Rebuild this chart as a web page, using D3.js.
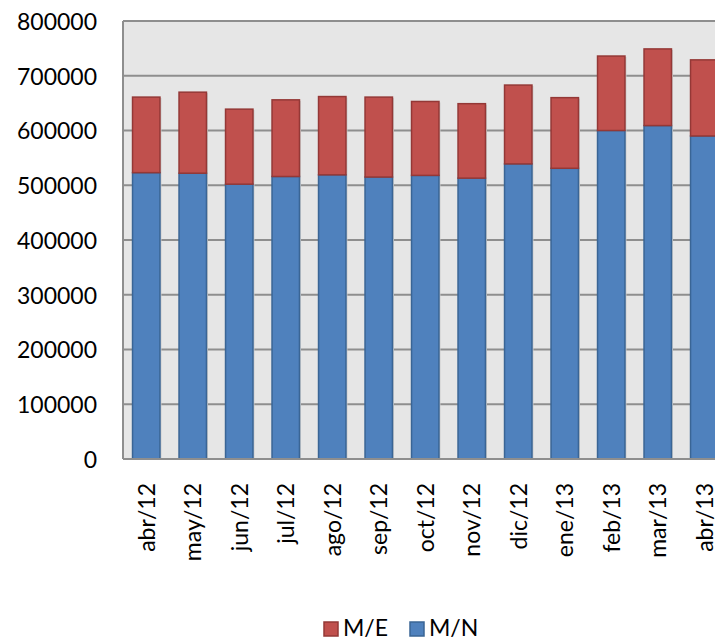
<!DOCTYPE html>
<html>
<head>
<meta charset="utf-8">
<script src="https://cdn.jsdelivr.net/npm/d3@7"></script>
<style>
  body { margin: 0; background: #fff; overflow: hidden; }
  text { font-family: Lato, "Open Sans", sans-serif; fill: #000; }
</style>
</head>
<body>
<div id="chart"></div>
<script>
// months on the x axis
var months = ["abr/12", "may/12", "jun/12", "jul/12", "ago/12", "sep/12", "oct/12",
    "nov/12", "dic/12", "ene/13", "feb/13", "mar/13", "abr/13"];
// M/N (bottom, blue)
var mn = [523000, 522000, 502000, 516000, 519000, 515000, 518000,
    513000, 539000, 531000, 600000, 609000, 590000];
// M/E (top, red)
var me = [138000, 148000, 137000, 140000, 143000, 146000, 135000,
    136000, 144000, 129000, 136000, 140000, 139000];
var yTicks = [0, 100000, 200000, 300000, 400000, 500000, 600000, 700000, 800000];

var margin = { top: 21, left: 123 },
    width = 604.5,
    height = 438;

var svg = d3.select("#chart")
    .append("svg")
    .attr("width", 715)
    .attr("height", 640);

var g = svg.append("g")
    .attr("transform", "translate(" + margin.left + "," + margin.top + ")");

var x = d3.scaleBand()
    .domain(months)
    .range([0, width])
    .paddingInner(0.41)
    .paddingOuter(0.205);

var y = d3.scaleLinear().domain([0, 800000]).range([height, 0]);

// plot background
g.append("rect")
    .attr("width", width)
    .attr("height", height)
    .attr("fill", "#e6e6e6");

// gridlines
g.selectAll(".grid")
    .data(yTicks)
    .enter()
    .append("line")
    .attr("x1", 0)
    .attr("x2", width)
    .attr("y1", function (d) { return y(d); })
    .attr("y2", function (d) { return y(d); })
    .attr("stroke", "#8e8e8e")
    .attr("stroke-width", 2);

// left border line
g.append("line")
    .attr("x1", 0).attr("x2", 0)
    .attr("y1", 0).attr("y2", height)
    .attr("stroke", "#8e8e8e")
    .attr("stroke-width", 2);

var data = months.map(function (m, i) {
    return { m: m, mn: mn[i], me: me[i] };
});

// light shadow on the right side of the bars
g.selectAll(".shadow")
    .data(data)
    .enter()
    .append("rect")
    .attr("x", function (d) { return x(d.m) + 1.5; })
    .attr("y", function (d) { return y(d.mn + d.me) + 1; })
    .attr("width", x.bandwidth())
    .attr("height", function (d) { return height - y(d.mn + d.me) - 1; })
    .attr("fill", "#c9c9c9");

// M/N bars
g.selectAll(".mn")
    .data(data)
    .enter()
    .append("rect")
    .attr("x", function (d) { return x(d.m); })
    .attr("y", function (d) { return y(d.mn); })
    .attr("width", x.bandwidth())
    .attr("height", function (d) { return height - y(d.mn); })
    .attr("fill", "#4f81bd")
    .attr("stroke", "#3a6595")
    .attr("stroke-width", 1.5);

// M/E bars
g.selectAll(".me")
    .data(data)
    .enter()
    .append("rect")
    .attr("x", function (d) { return x(d.m); })
    .attr("y", function (d) { return y(d.mn + d.me); })
    .attr("width", x.bandwidth())
    .attr("height", function (d) { return y(d.mn) - y(d.mn + d.me); })
    .attr("fill", "#c0504d")
    .attr("stroke", "#943836")
    .attr("stroke-width", 1.5);

// bottom axis line
g.append("line")
    .attr("x1", 0).attr("x2", width)
    .attr("y1", height).attr("y2", height)
    .attr("stroke", "#8e8e8e")
    .attr("stroke-width", 2);

// y axis labels
var yAxis = d3.axisLeft(y).tickValues(yTicks).tickSize(0).tickPadding(26)
    .tickFormat(d3.format("d"));
g.append("g")
    .call(yAxis)
    .call(function (s) {
        s.select(".domain").remove();
        s.selectAll("text")
            .style("font-size", "23px")
            .attr("dy", "0.36em");
    });

// x axis labels rotated
var xAxis = d3.axisBottom(x).tickSize(0);
g.append("g")
    .attr("transform", "translate(0," + height + ")")
    .call(xAxis)
    .call(function (s) {
        s.select(".domain").remove();
        s.selectAll("text")
            .style("font-size", "23px")
            .attr("transform", "rotate(-90)")
            .attr("text-anchor", "end")
            .attr("x", -24)
            .attr("y", 0)
            .attr("dy", "0.36em");
    });

// legend
var legend = [
    { name: "M/E", fill: "#c0504d", stroke: "#943836", x: 324 },
    { name: "M/N", fill: "#4f81bd", stroke: "#3a6595", x: 410 }
];
var lg = svg.selectAll(".legend")
    .data(legend)
    .enter()
    .append("g")
    .attr("transform", function (d) { return "translate(" + d.x + ",622)"; });
lg.append("rect")
    .attr("width", 14)
    .attr("height", 14)
    .attr("fill", function (d) { return d.fill; })
    .attr("stroke", function (d) { return d.stroke; })
    .attr("stroke-width", 1.5);
lg.append("text")
    .attr("x", 19)
    .attr("y", 14)
    .style("font-size", "23px")
    .text(function (d) { return d.name; });
</script>
</body>
</html>
